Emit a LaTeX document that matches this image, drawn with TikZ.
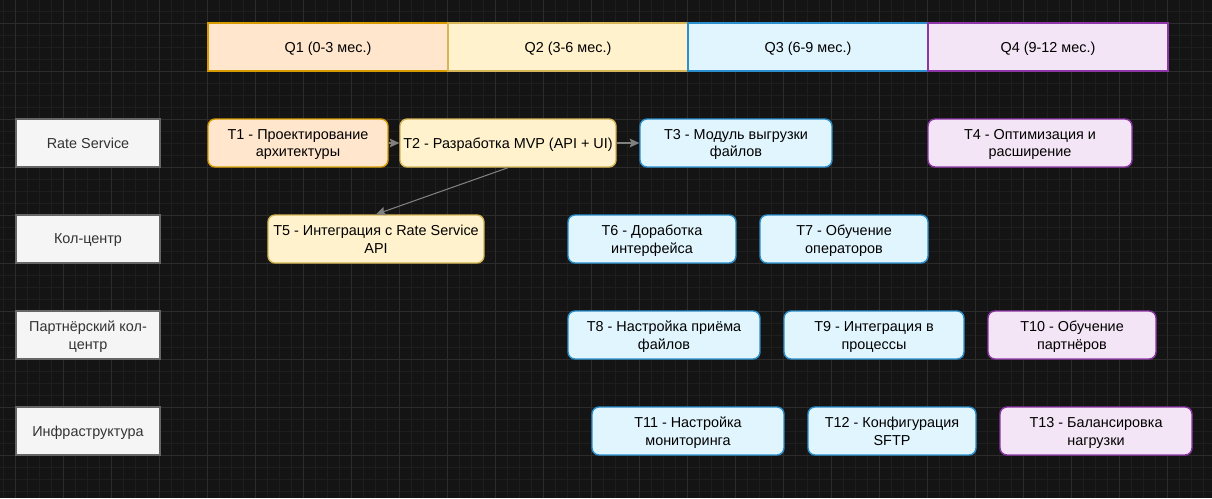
\documentclass[tikz,border=0pt]{standalone}
\usepackage{fontspec}
\setmainfont{Liberation Sans}
\usepackage{tikz}
\usetikzlibrary{arrows.meta,backgrounds,calc}

\definecolor{bgdark}{HTML}{141414}
\definecolor{gridminor}{HTML}{1E1E1E}
\definecolor{gridmajor}{HTML}{2C2C2C}
\definecolor{lanefill}{HTML}{F5F5F5}
\definecolor{lanedraw}{HTML}{666666}
\definecolor{lanetext}{HTML}{333333}
\definecolor{orfill}{HTML}{FFE6CC}
\definecolor{ordraw}{HTML}{D79B00}
\definecolor{yefill}{HTML}{FFF2CC}
\definecolor{yedraw}{HTML}{D6B656}
\definecolor{blfill}{HTML}{E1F5FE}
\definecolor{bldraw}{HTML}{2A8FCC}
\definecolor{pufill}{HTML}{F3E5F5}
\definecolor{pudraw}{HTML}{8E35A8}
\definecolor{flowgray}{HTML}{808080}

\tikzset{
  lane/.style={draw=lanedraw, fill=lanefill, text=lanetext, line width=0.8pt, text depth=0pt,
    minimum width=2.88cm, minimum height=0.96cm, align=center, inner sep=1pt},
  quarter/.style={line width=0.9pt, minimum width=4.8cm, minimum height=0.96cm, inner sep=1pt, text depth=0pt},
  task/.style={rounded corners=4pt, line width=0.8pt, minimum height=0.96cm, align=center, inner sep=1pt, text depth=0pt},
  orbox/.style={task, fill=orfill, draw=ordraw},
  yebox/.style={task, fill=yefill, draw=yedraw},
  blbox/.style={task, fill=blfill, draw=bldraw},
  pubox/.style={task, fill=pufill, draw=pudraw},
  flow/.style={draw=flowgray, line width=0.6pt, -{Stealth[length=5.5pt,width=5pt,inset=1pt]}}
}

\begin{document}
\begin{tikzpicture}[x=0.02cm, y=-0.02cm, font=\fontsize{8.2}{10.2}\selectfont]
% background and grid
\fill[bgdark] (0,0) rectangle (1212,498);
\useasboundingbox (0,0) rectangle (1212,498);
\foreach \gx in {3,15,...,1211} \draw[gridminor, line width=0.4pt] (\gx,0) -- (\gx,498);
\foreach \gy in {11,23,...,497} \draw[gridminor, line width=0.4pt] (0,\gy) -- (1212,\gy);
\foreach \gx in {15,63,...,1211} \draw[gridmajor, line width=0.5pt] (\gx,0) -- (\gx,498);
\foreach \gy in {23,71,...,497} \draw[gridmajor, line width=0.5pt] (0,\gy) -- (1212,\gy);

% quarters
\node[quarter, fill=orfill, draw=ordraw] (q1) at (328,47) {Q1 (0-3 мес.)};
\node[quarter, fill=yefill, draw=yedraw] (q2) at (568,47) {Q2 (3-6 мес.)};
\node[quarter, fill=blfill, draw=bldraw] (q3) at (808,47) {Q3 (6-9 мес.)};
\node[quarter, fill=pufill, draw=pudraw] (q4) at (1048,47) {Q4 (9-12 мес.)};

% lanes
\node[lane] (rate) at (88,143) {Rate Service};
\node[lane] (call) at (88,239) {Кол-центр};
\node[lane] (partner) at (88,335) {Партнёрский кол-\\центр};
\node[lane] (infra) at (88,431) {Инфраструктура};

% tasks
\node[orbox, minimum width=3.6cm] (t1) at (298,143) {T1 - Проектирование\\архитектуры};
\node[yebox, minimum width=4.32cm] (t2) at (508,143) {T2 - Разработка MVP (API + UI)};
\node[blbox, minimum width=3.84cm] (t3) at (736,143) {T3 - Модуль выгрузки\\файлов};
\node[pubox, minimum width=4.08cm] (t4) at (1030,143) {T4 - Оптимизация и\\расширение};
\node[yebox, minimum width=4.32cm] (t5) at (376,239) {T5 - Интеграция с Rate Service\\API};
\node[blbox, minimum width=3.36cm] (t6) at (652,239) {T6 - Доработка\\интерфейса};
\node[blbox, minimum width=3.36cm] (t7) at (844,239) {T7 - Обучение\\операторов};
\node[blbox, minimum width=3.84cm] (t8) at (664,335) {T8 - Настройка приёма\\файлов};
\node[blbox, minimum width=3.6cm] (t9) at (874,335) {T9 - Интеграция в\\процессы};
\node[pubox, minimum width=3.36cm] (t10) at (1072,335) {T10 - Обучение\\партнёров};
\node[blbox, minimum width=3.84cm] (t11) at (688,431) {T11 - Настройка\\мониторинга};
\node[blbox, minimum width=3.36cm] (t12) at (892,431) {T12 - Конфигурация\\SFTP};
\node[pubox, minimum width=3.84cm] (t13) at (1096,431) {T13 - Балансировка\\нагрузки};

% dependencies
\draw[flow] (t1) -- (t2);
\draw[flow] (t2) -- (t3);
\draw[flow] (t2.south) -- (t5.north);
\end{tikzpicture}
\end{document}
